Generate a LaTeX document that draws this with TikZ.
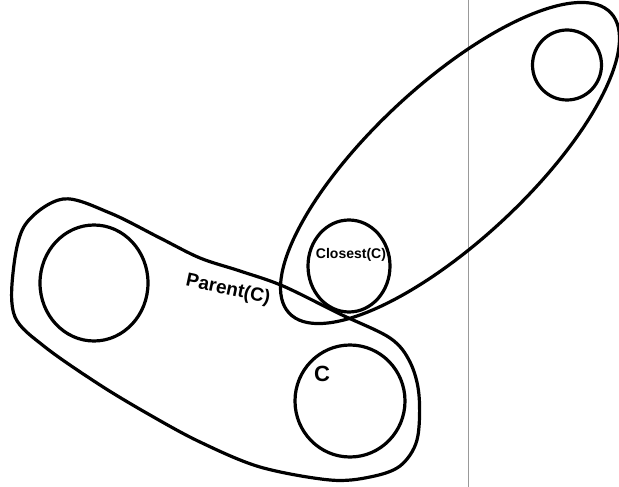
\documentclass[tikz,border=0pt]{standalone}
\usepackage{fontspec}
\setmainfont{Liberation Sans}
\usetikzlibrary{shapes.geometric}
\begin{document}
\begin{tikzpicture}[x=1pt,y=-1pt,
  ink/.style={line width=3.2pt, line cap=round, line join=round, black},
  blob/.style={ellipse, draw, line width=3.2pt, inner sep=0pt},
  hand/.style={font=\bfseries, inner sep=0pt}]
\useasboundingbox (0,0) rectangle (619,487);
% thin vertical rule
\draw[gray!80, line width=0.8pt] (468,0) -- (468,487);
% tilted oval (upper right)
\draw[ink, rotate around={43:(450,163)}] (450,163) ellipse [x radius=220, y radius=78];
% Parent(C) oval
\draw[ink] plot[smooth cycle, tension=0.55] coordinates {
  (63,199) (110,213) (160,238) (200,258) (240,271) (283,286) (340,314) (390,338)
  (410,362) (419,395) (417,440) (400,466) (370,477) (330,480) (260,467)
  (200,442) (150,415) (100,385) (45,347) (15,317) (13,273) (25,225)};
% circles
\node[blob, minimum width=108, minimum height=116] (left) at (94,283) {};
\node[blob, minimum width=110, minimum height=112] (c) at (350,401) {};
\node[blob, minimum width=82, minimum height=92] (closest) at (349,266) {};
\node[blob, minimum width=69, minimum height=70] (topc) at (567,65) {};
% labels
\node[hand, font=\bfseries\fontsize{14}{14}\selectfont] (lclosest) at (351,255) {Closest(C)};
\node[hand, font=\bfseries\fontsize{19}{19}\selectfont, rotate=-12] (lparent) at (228,290) {Parent(C)};
\node[hand, font=\bfseries\fontsize{22}{22}\selectfont] (lc) at (322,374) {C};
\end{tikzpicture}
\end{document}
